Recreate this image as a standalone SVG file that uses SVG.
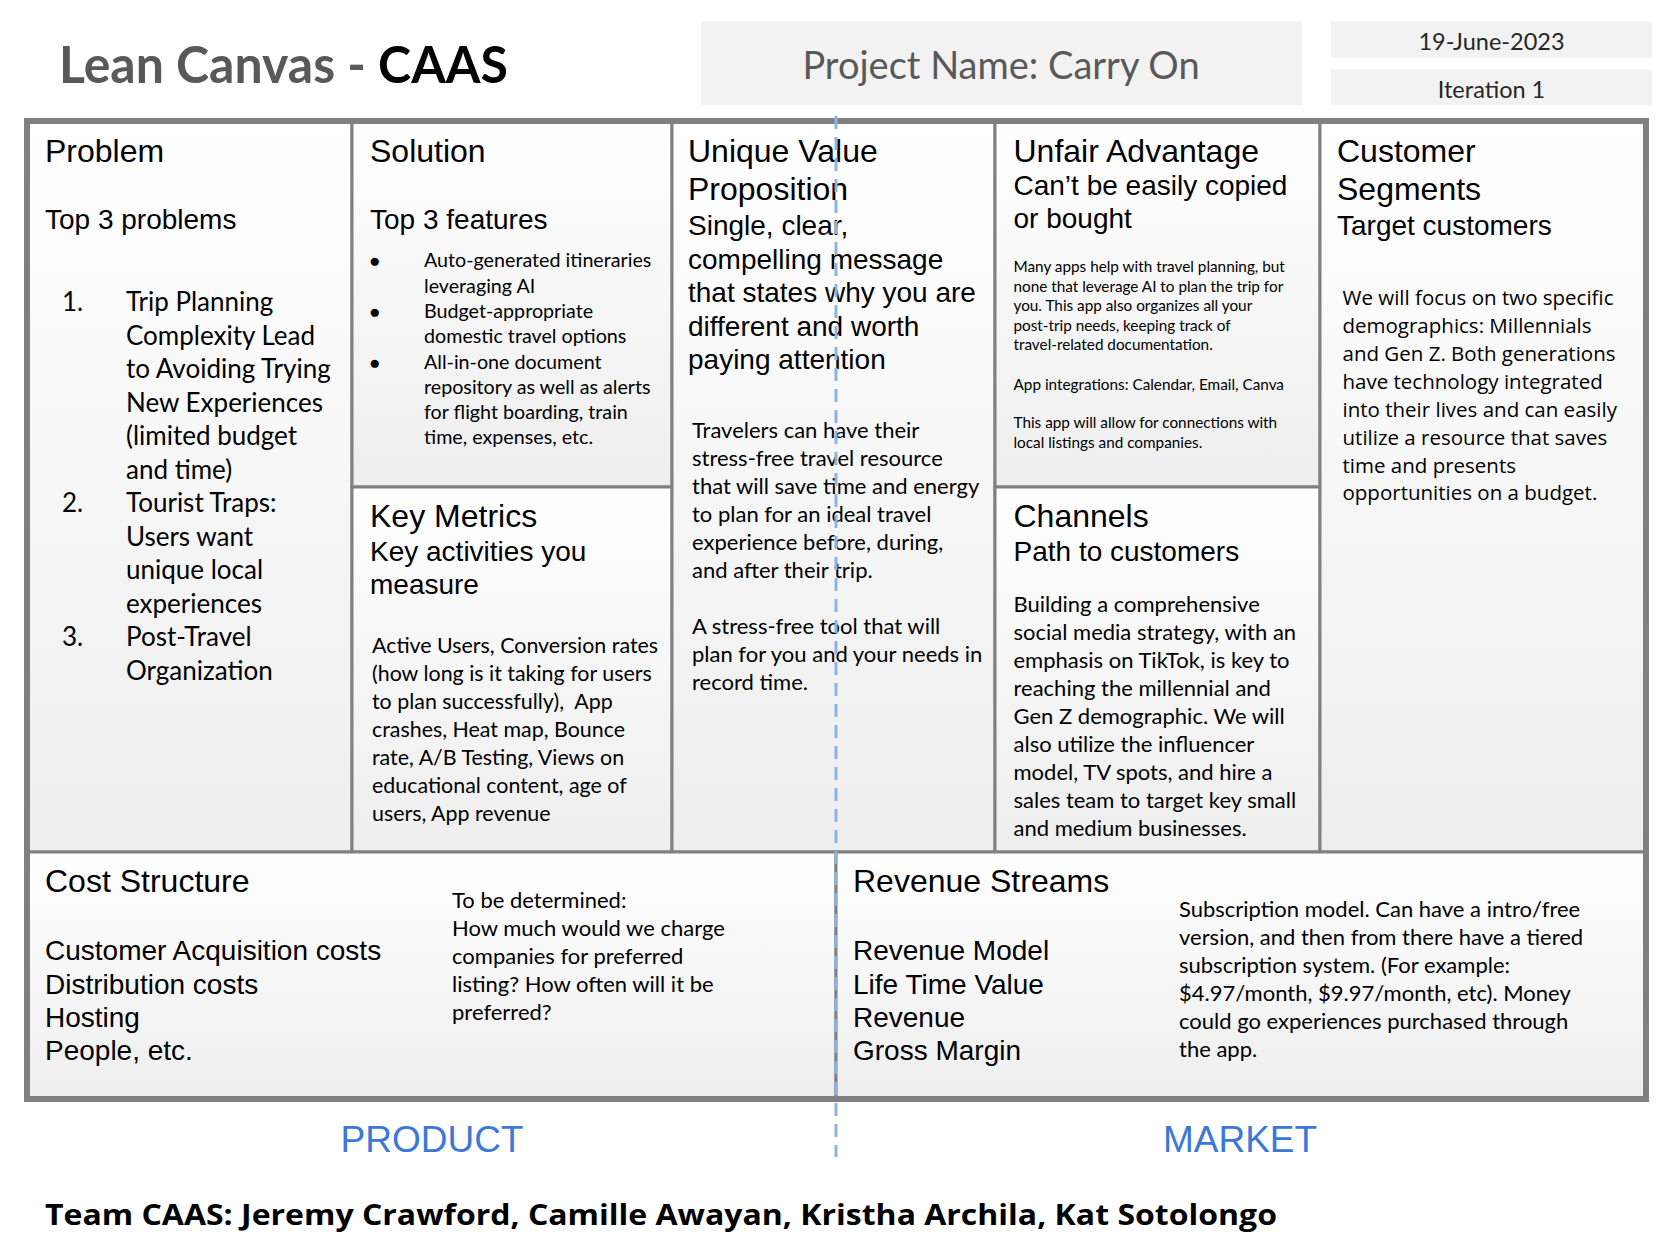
<svg xmlns="http://www.w3.org/2000/svg" width="1680" height="1260" viewBox="0 0 1680 1260">
<defs>
<linearGradient id="cellg" x1="0" y1="0" x2="0" y2="1">
<stop offset="0" stop-color="#ffffff"/>
<stop offset="1" stop-color="#eeeeee"/>
</linearGradient>
<style>
.cell{fill:url(#cellg);stroke:#808080;stroke-width:3}
.box{fill:#f2f2f2}
.hd{font-family:"Liberation Sans",Arial,sans-serif;font-size:32px;fill:#000}
.sub{font-family:"Liberation Sans",Arial,sans-serif;font-size:28px;fill:#000}
.b22{font-family:Lato,"Liberation Sans",sans-serif;font-size:22px;fill:#000}
.km{font-family:Lato,"Liberation Sans",sans-serif;font-size:21.4px;fill:#000}
.b26{font-family:Lato,"Liberation Sans",sans-serif;font-size:26px;fill:#000}
.b20{font-family:Lato,"Liberation Sans",sans-serif;font-size:19.7px;fill:#000}
.b15{font-family:Lato,"Liberation Sans",sans-serif;font-size:15.3px;fill:#000}
.os{font-family:"Open Sans","Liberation Sans",sans-serif;font-size:20.5px;fill:#000}
.pm{font-family:"Liberation Sans",Arial,sans-serif;font-size:37px;fill:#3b78d8;text-anchor:middle}
.bul{font-family:"Liberation Sans",Arial,sans-serif;font-size:19px;fill:#000}
</style>
</defs>
<rect width="1680" height="1260" fill="#ffffff"/>

<g id="header">
<text x="59" y="83" font-family="Lato,'Liberation Sans',sans-serif" font-weight="700" font-size="52" textLength="449" lengthAdjust="spacingAndGlyphs"><tspan fill="#595959">Lean Canvas - </tspan><tspan fill="#000000">CAAS</tspan></text>
<rect class="box" x="701" y="21.5" width="601" height="83.5"/>
<text x="1001" y="79" text-anchor="middle" font-family="Lato,'Liberation Sans',sans-serif" font-size="38" fill="#595959">Project Name: Carry On</text>
<rect class="box" x="1331" y="21.5" width="321" height="36.5"/>
<text x="1491.5" y="50" text-anchor="middle" font-family="Lato,'Liberation Sans',sans-serif" font-size="23.5" fill="#262626">19-June-2023</text>
<rect class="box" x="1331" y="69.5" width="321" height="35.5"/>
<text x="1491.5" y="98" text-anchor="middle" font-family="Lato,'Liberation Sans',sans-serif" font-size="23.5" fill="#262626">Iteration 1</text>
</g>

<g id="problem">
<rect class="cell" x="27" y="121" width="325" height="731"/>
<text class="hd" x="45" y="162">Problem</text>
<text class="sub" x="45" y="229">Top 3 problems</text>
<g class="b26">
<text x="62" y="311">1.</text>
<text x="126" y="311">Trip Planning</text>
<text x="126" y="344.5">Complexity Lead</text>
<text x="126" y="378">to Avoiding Trying</text>
<text x="126" y="411.5">New Experiences</text>
<text x="126" y="445">(limited budget</text>
<text x="126" y="478.5">and time)</text>
<text x="62" y="512">2.</text>
<text x="126" y="512">Tourist Traps:</text>
<text x="126" y="545.5">Users want</text>
<text x="126" y="579">unique local</text>
<text x="126" y="612.5">experiences</text>
<text x="62" y="646">3.</text>
<text x="126" y="646">Post-Travel</text>
<text x="126" y="679.5">Organization</text>
</g>
</g>

<g id="solution">
<rect class="cell" x="352" y="121" width="320" height="366"/>
<text class="hd" x="370" y="162">Solution</text>
<text class="sub" x="370" y="229">Top 3 features</text>
<text class="bul" x="369" y="267">●</text>
<text class="bul" x="369" y="318">●</text>
<text class="bul" x="369" y="368.5">●</text>
<g class="b20">
<text x="424" y="267">Auto-generated itineraries</text>
<text x="424" y="292.5">leveraging AI</text>
<text x="424" y="318">Budget-appropriate</text>
<text x="424" y="343">domestic travel options</text>
<text x="424" y="368.5">All-in-one document</text>
<text x="424" y="393.5">repository as well as alerts</text>
<text x="424" y="418.5">for flight boarding, train</text>
<text x="424" y="443.5">time, expenses, etc.</text>
</g>
</g>

<g id="key-metrics">
<rect class="cell" x="352" y="487" width="320" height="365"/>
<text class="hd" x="370" y="527">Key Metrics</text>
<text class="sub" x="370" y="561">Key activities you</text>
<text class="sub" x="370" y="594">measure</text>
<g class="km">
<text x="372" y="653">Active Users, Conversion rates</text>
<text x="372" y="681">(how long is it taking for users</text>
<text x="372" y="709" xml:space="preserve">to plan successfully),  App</text>
<text x="372" y="737">crashes, Heat map, Bounce</text>
<text x="372" y="765">rate, A/B Testing, Views on</text>
<text x="372" y="793">educational content, age of</text>
<text x="372" y="821">users, App revenue</text>
</g>
</g>

<g id="unique-value-proposition">
<rect class="cell" x="672" y="121" width="323" height="731"/>
<text class="hd" x="688" y="162">Unique Value</text>
<text class="hd" x="688" y="200">Proposition</text>
<text class="sub" x="688" y="235">Single, clear,</text>
<text class="sub" x="688" y="268.5">compelling message</text>
<text class="sub" x="688" y="302">that states why you are</text>
<text class="sub" x="688" y="335.5">different and worth</text>
<text class="sub" x="688" y="369">paying attention</text>
<g class="b22">
<text x="692" y="438">Travelers can have their</text>
<text x="692" y="466">stress-free travel resource</text>
<text x="692" y="494">that will save time and energy</text>
<text x="692" y="522">to plan for an ideal travel</text>
<text x="692" y="550">experience before, during,</text>
<text x="692" y="578">and after their trip.</text>
<text x="692" y="634">A stress-free tool that will</text>
<text x="692" y="662">plan for you and your needs in</text>
<text x="692" y="690">record time.</text>
</g>
</g>

<g id="unfair-advantage">
<rect class="cell" x="995" y="121" width="325" height="366"/>
<text class="hd" x="1013.5" y="162">Unfair Advantage</text>
<text class="sub" x="1013.5" y="195">Can’t be easily copied</text>
<text class="sub" x="1013.5" y="228">or bought</text>
<g class="b15">
<text x="1013.5" y="272">Many apps help with travel planning, but</text>
<text x="1013.5" y="291.5">none that leverage AI to plan the trip for</text>
<text x="1013.5" y="311">you. This app also organizes all your</text>
<text x="1013.5" y="330.5">post-trip needs, keeping track of</text>
<text x="1013.5" y="350">travel-related documentation.</text>
<text x="1013.5" y="389.5">App integrations: Calendar, Email, Canva</text>
<text x="1013.5" y="428">This app will allow for connections with</text>
<text x="1013.5" y="448">local listings and companies.</text>
</g>
</g>

<g id="channels">
<rect class="cell" x="995" y="487" width="325" height="365"/>
<text class="hd" x="1013.5" y="527">Channels</text>
<text class="sub" x="1013.5" y="561">Path to customers</text>
<g class="b22">
<text x="1013.5" y="612">Building a comprehensive</text>
<text x="1013.5" y="640">social media strategy, with an</text>
<text x="1013.5" y="668">emphasis on TikTok, is key to</text>
<text x="1013.5" y="696">reaching the millennial and</text>
<text x="1013.5" y="724">Gen Z demographic. We will</text>
<text x="1013.5" y="752">also utilize the influencer</text>
<text x="1013.5" y="780">model, TV spots, and hire a</text>
<text x="1013.5" y="808">sales team to target key small</text>
<text x="1013.5" y="836">and medium businesses.</text>
</g>
</g>

<g id="customer-segments">
<rect class="cell" x="1320" y="121" width="326" height="731"/>
<text class="hd" x="1337" y="162">Customer</text>
<text class="hd" x="1337" y="200">Segments</text>
<text class="sub" x="1337" y="235">Target customers</text>
<g class="os">
<text x="1342.5" y="305">We will focus on two specific</text>
<text x="1342.5" y="333">demographics: Millennials</text>
<text x="1342.5" y="361">and Gen Z. Both generations</text>
<text x="1342.5" y="389">have technology integrated</text>
<text x="1342.5" y="417">into their lives and can easily</text>
<text x="1342.5" y="444.5">utilize a resource that saves</text>
<text x="1342.5" y="472.5">time and presents</text>
<text x="1342.5" y="500">opportunities on a budget.</text>
</g>
</g>

<g id="cost-structure">
<rect class="cell" x="27" y="852" width="809" height="247"/>
<text class="hd" x="45" y="892">Cost Structure</text>
<text class="sub" x="45" y="960">Customer Acquisition costs</text>
<text class="sub" x="45" y="994">Distribution costs</text>
<text class="sub" x="45" y="1027">Hosting</text>
<text class="sub" x="45" y="1060">People, etc.</text>
<g class="b22">
<text x="452" y="908">To be determined:</text>
<text x="452" y="936">How much would we charge</text>
<text x="452" y="964">companies for preferred</text>
<text x="452" y="992">listing? How often will it be</text>
<text x="452" y="1020">preferred?</text>
</g>
</g>

<g id="revenue-streams">
<rect class="cell" x="836" y="852" width="810" height="247"/>
<text class="hd" x="853" y="892">Revenue Streams</text>
<text class="sub" x="853" y="960">Revenue Model</text>
<text class="sub" x="853" y="994">Life Time Value</text>
<text class="sub" x="853" y="1027">Revenue</text>
<text class="sub" x="853" y="1060">Gross Margin</text>
<g class="b22">
<text x="1179" y="917">Subscription model. Can have a intro/free</text>
<text x="1179" y="945">version, and then from there have a tiered</text>
<text x="1179" y="973">subscription system. (For example:</text>
<text x="1179" y="1001">$4.97/month, $9.97/month, etc). Money</text>
<text x="1179" y="1029">could go experiences purchased through</text>
<text x="1179" y="1057">the app.</text>
</g>
</g>

<g id="frame">
<rect x="27" y="121" width="1619" height="978" fill="none" stroke="#808080" stroke-width="6"/>
</g>

<g id="connectors">
<line x1="836" y1="116" x2="836" y2="1157" stroke="#8db3e2" stroke-width="3" stroke-dasharray="13,8"/>
</g>

<g id="labels">
<text class="pm" x="432" y="1152">PRODUCT</text>
<text class="pm" x="1240" y="1152">MARKET</text>
<text x="45" y="1225" font-family="'Open Sans','Liberation Sans',sans-serif" font-weight="700" font-size="29" fill="#000" textLength="1232" lengthAdjust="spacingAndGlyphs">Team CAAS: Jeremy Crawford, Camille Awayan, Kristha Archila, Kat Sotolongo</text>
</g>
</svg>
